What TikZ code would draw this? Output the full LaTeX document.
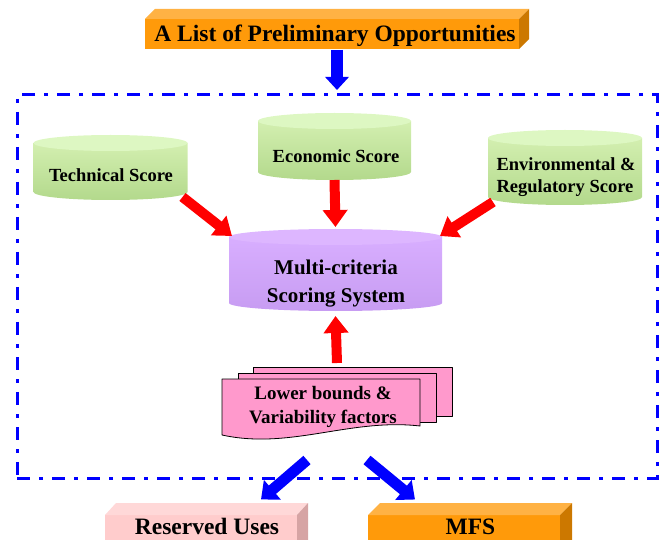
\documentclass[tikz,border=0pt]{standalone}
\usepackage{fontspec}
\setmainfont{Liberation Serif}
\usetikzlibrary{arrows.meta,calc}
\definecolor{frameblue}{HTML}{0000FF}
\definecolor{arrred}{HTML}{FF0000}
\definecolor{orfront}{HTML}{FF9A0A}
\definecolor{ortop}{HTML}{FFB244}
\definecolor{orside}{HTML}{CC7800}
\definecolor{pkfront}{HTML}{FFCCCC}
\definecolor{pktop}{HTML}{FFD8D8}
\definecolor{pkside}{HTML}{D6A4A4}
\definecolor{docpink}{HTML}{FF99CC}
\definecolor{grtop}{HTML}{DDF7C2}
\definecolor{grbodyA}{HTML}{D3EFB0}
\definecolor{grbodyB}{HTML}{B3D98C}
\definecolor{putop}{HTML}{DDB6FF}
\definecolor{pubodyA}{HTML}{D8AEFF}
\definecolor{pubodyB}{HTML}{C79CF2}
% 3D box: x0 y0 x1 y1 (front face, page px), dx dy, front, top, side
\newcommand\boxthreed[9]{%
  \fill[#7] (#1,-#2) rectangle (#3,-#4);
  \fill[#8] (#1,-#2) -- ({#1+#5},{-(#2-#6)}) -- ({#3+#5},{-(#2-#6)}) -- (#3,-#2) -- cycle;
  \fill[#9] (#3,-#2) -- ({#3+#5},{-(#2-#6)}) -- ({#3+#5},{-(#4-#6)}) -- (#3,-#4) -- cycle;
}
% cylinder: cx top bottom hw ry bodyA bodyB topcol
\newcommand\cylshape[8]{%
  \shade[top color=#6,bottom color=#7] ({#1-#4},{-(#2+#5)}) -- ({#1-#4},{-(#3-#5)})
    arc[start angle=180,end angle=360,x radius=#4,y radius=#5] -- ({#1+#4},{-(#2+#5)}) -- cycle;
  \fill[#8] (#1,{-(#2+#5)}) ellipse[x radius=#4,y radius=#5];
}
\begin{document}
\begin{tikzpicture}[x=1pt,y=1pt,
  shp/.style={inner sep=0pt,outer sep=0pt,draw=none},
  lbl/.style={font=\bfseries\fontsize{18.5}{22}\selectfont,inner sep=0pt,anchor=base},
  doclbl/.style={font=\bfseries\fontsize{19}{22}\selectfont,inner sep=0pt,anchor=base},
  biglbl/.style={font=\bfseries\fontsize{23.5}{26}\selectfont,inner sep=0pt,anchor=base},
  midlbl/.style={font=\bfseries\fontsize{21}{24}\selectfont,inner sep=0pt,anchor=base},
  redarrow/.style={draw=arrred,line width=10pt,-{Triangle[width=24pt,length=17pt]}},
  bluearrow/.style={draw=frameblue,line width=11pt,-{Triangle[width=25pt,length=15pt]}},
  sheet/.style={fill=docpink,draw=black,line width=0.8pt,line join=round}]
\useasboundingbox (0,0) rectangle (667,-540);
\clip (0,0) rectangle (667,-540);

% dashed frame
\node[shp,draw=frameblue,line width=3pt,dash pattern=on 13pt off 9pt on 4pt off 9pt,
  minimum width=640pt,minimum height=383pt] (frame) at (337,-286.5) {};

% title box
\boxthreed{145}{19}{519}{49}{10}{10}{orfront}{ortop}{orside}
\node[shp,minimum width=384pt,minimum height=40pt] (titlebox) at (337,-29) {};
\node[biglbl] (title) at (335,-42) {A List of Preliminary Opportunities};

% cylinders
\cylshape{110.5}{135}{200}{77}{8}{grbodyA}{grbodyB}{grtop}
\node[shp,minimum width=154pt,minimum height=65pt] (tech) at (110.5,-167.5) {};
\node[lbl] (techT) at (111,-182) {Technical Score};

\cylshape{334.5}{113}{180}{76.5}{8}{grbodyA}{grbodyB}{grtop}
\node[shp,minimum width=153pt,minimum height=67pt] (econ) at (334.5,-146.5) {};
\node[lbl] (econT) at (336,-163) {Economic Score};

\cylshape{565}{130}{205}{77}{8}{grbodyA}{grbodyB}{grtop}
\node[shp,minimum width=154pt,minimum height=75pt] (env) at (565,-167.5) {};
\node[lbl] (envT1) at (566,-171) {Environmental \&};
\node[lbl] (envT2) at (565,-193) {Regulatory Score};

\cylshape{335.5}{229}{311}{106.5}{8}{pubodyA}{pubodyB}{putop}
\node[shp,minimum width=213pt,minimum height=82pt] (multi) at (335.5,-270) {};
\node[midlbl] (multiT1) at (336,-275) {Multi-criteria};
\node[midlbl] (multiT2) at (336,-302) {Scoring System};

% document stack
\draw[sheet] (253,-367) rectangle (452,-416);
\draw[sheet] (238,-373) rectangle (436,-422);
\draw[sheet] (222,-379) -- (420,-379) -- (420,-426)
  .. controls (350,-418) and (290,-450) .. (222,-435) -- cycle;
\node[shp,minimum width=230pt,minimum height=70pt] (docs) at (337,-402) {};
\node[doclbl] (docsT1) at (323,-399) {Lower bounds \&};
\node[doclbl] (docsT2) at (323,-423) {Variability factors};

% output boxes
\boxthreed{105}{515}{297}{560}{11}{12}{pkfront}{pktop}{pkside}
\node[shp,minimum width=203pt,minimum height=45pt] (res) at (206.5,-525) {};
\node[biglbl] (resT) at (207,-534) {Reserved Uses};
\boxthreed{368}{515}{560}{560}{12}{12}{orfront}{ortop}{orside}
\node[shp,minimum width=204pt,minimum height=45pt] (mfs) at (470,-525) {};
\node[biglbl] (mfsT) at (470.5,-534) {MFS};

% connectors
\draw[draw=frameblue,line width=12pt,-{Triangle[width=23pt,length=13pt]}]
  ($(titlebox.south)+(0,-1)$) -- ($(frame.north)+(0,5)$);
\draw[redarrow] ($(tech.south east)+(-5,3)$) -- ($(multi.north west)+(3,-7)$);
\draw[redarrow] (econ.south) -- ($(multi.north)+(0,2)$);
\draw[redarrow] ($(env.south west)+(5,3)$) -- ($(multi.north east)+(-2,-7)$);
\draw[redarrow] ($(docs.north)+(0,4)$) -- ($(multi.south)+(0,-5)$);
\draw[bluearrow] ($(docs.south)+(-30,-23)$) -- ($(res.north east)+(-47,3)$);
\draw[bluearrow] ($(docs.south)+(30,-23)$) -- ($(mfs.north west)+(47,3)$);
\end{tikzpicture}
\end{document}
